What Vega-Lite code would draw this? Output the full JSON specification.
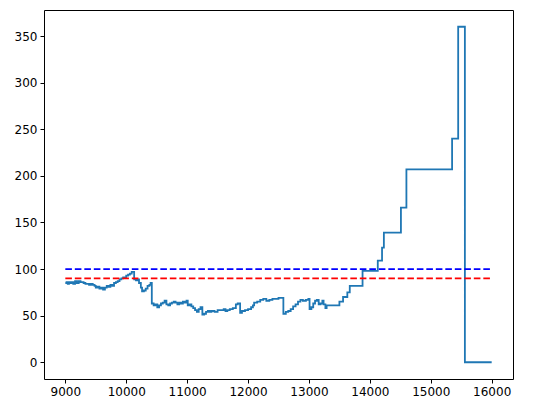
{
  "$schema": "https://vega.github.io/schema/vega-lite/v6.json",
  "width": 469,
  "height": 369,
  "autosize": "none",
  "padding": {"left": 44, "top": 10, "right": 39, "bottom": 34},
  "background": "white",
  "config": {
    "view": {"stroke": "black", "strokeWidth": 1},
    "axis": {
      "grid": false,
      "domain": false,
      "tickColor": "black",
      "tickSize": 4,
      "tickWidth": 1,
      "labelFont": "DejaVu Sans",
      "labelFontSize": 12,
      "labelColor": "black",
      "labelPadding": 3,
      "title": null
    }
  },
  "datasets": {
    "main": [
      {"x": 9000, "y": 85}, {"x": 9020, "y": 86}, {"x": 9040, "y": 84}, {"x": 9060, "y": 86}, {"x": 9080, "y": 85},
      {"x": 9100, "y": 86}, {"x": 9130, "y": 84}, {"x": 9160, "y": 87}, {"x": 9190, "y": 85}, {"x": 9220, "y": 87},
      {"x": 9250, "y": 86}, {"x": 9280, "y": 86}, {"x": 9300, "y": 85}, {"x": 9330, "y": 84}, {"x": 9360, "y": 84},
      {"x": 9390, "y": 83}, {"x": 9420, "y": 84}, {"x": 9450, "y": 83}, {"x": 9480, "y": 82}, {"x": 9500, "y": 80},
      {"x": 9530, "y": 81}, {"x": 9560, "y": 79}, {"x": 9590, "y": 80}, {"x": 9620, "y": 78}, {"x": 9650, "y": 80},
      {"x": 9680, "y": 82}, {"x": 9710, "y": 81}, {"x": 9740, "y": 83}, {"x": 9770, "y": 82}, {"x": 9800, "y": 85},
      {"x": 9830, "y": 86}, {"x": 9860, "y": 87}, {"x": 9890, "y": 89}, {"x": 9920, "y": 90}, {"x": 9950, "y": 91},
      {"x": 9980, "y": 91}, {"x": 10000, "y": 93}, {"x": 10030, "y": 94}, {"x": 10060, "y": 95}, {"x": 10090, "y": 97},
      {"x": 10110, "y": 97}, {"x": 10130, "y": 89}, {"x": 10160, "y": 88}, {"x": 10190, "y": 89}, {"x": 10210, "y": 85},
      {"x": 10240, "y": 80}, {"x": 10260, "y": 76}, {"x": 10290, "y": 77}, {"x": 10320, "y": 79}, {"x": 10350, "y": 82},
      {"x": 10380, "y": 83}, {"x": 10400, "y": 85}, {"x": 10420, "y": 63}, {"x": 10450, "y": 61}, {"x": 10480, "y": 62},
      {"x": 10510, "y": 59}, {"x": 10540, "y": 61}, {"x": 10570, "y": 63}, {"x": 10600, "y": 64}, {"x": 10630, "y": 66},
      {"x": 10660, "y": 62}, {"x": 10690, "y": 61}, {"x": 10720, "y": 63}, {"x": 10750, "y": 64}, {"x": 10780, "y": 65},
      {"x": 10810, "y": 64}, {"x": 10840, "y": 62}, {"x": 10870, "y": 64}, {"x": 10900, "y": 63}, {"x": 10930, "y": 65},
      {"x": 10960, "y": 64}, {"x": 10990, "y": 66}, {"x": 11010, "y": 61}, {"x": 11040, "y": 62}, {"x": 11070, "y": 60},
      {"x": 11100, "y": 58}, {"x": 11130, "y": 56}, {"x": 11160, "y": 54}, {"x": 11190, "y": 57}, {"x": 11220, "y": 59},
      {"x": 11250, "y": 51}, {"x": 11280, "y": 52}, {"x": 11310, "y": 54}, {"x": 11340, "y": 55}, {"x": 11370, "y": 54},
      {"x": 11400, "y": 55}, {"x": 11450, "y": 54}, {"x": 11500, "y": 56}, {"x": 11550, "y": 56}, {"x": 11600, "y": 57},
      {"x": 11630, "y": 55}, {"x": 11660, "y": 56}, {"x": 11700, "y": 57}, {"x": 11750, "y": 58}, {"x": 11800, "y": 62},
      {"x": 11830, "y": 63}, {"x": 11860, "y": 63}, {"x": 11870, "y": 53}, {"x": 11900, "y": 55}, {"x": 11950, "y": 56},
      {"x": 12000, "y": 57}, {"x": 12050, "y": 59}, {"x": 12080, "y": 61}, {"x": 12100, "y": 64}, {"x": 12150, "y": 65},
      {"x": 12200, "y": 67}, {"x": 12250, "y": 68}, {"x": 12300, "y": 66}, {"x": 12350, "y": 67}, {"x": 12400, "y": 68},
      {"x": 12450, "y": 68}, {"x": 12500, "y": 69}, {"x": 12560, "y": 69}, {"x": 12580, "y": 52}, {"x": 12620, "y": 54},
      {"x": 12660, "y": 55}, {"x": 12700, "y": 57}, {"x": 12740, "y": 60}, {"x": 12780, "y": 62}, {"x": 12820, "y": 65},
      {"x": 12860, "y": 67}, {"x": 12900, "y": 66}, {"x": 12950, "y": 67}, {"x": 12990, "y": 68}, {"x": 13010, "y": 57},
      {"x": 13040, "y": 59}, {"x": 13070, "y": 63}, {"x": 13100, "y": 66}, {"x": 13130, "y": 67}, {"x": 13160, "y": 62},
      {"x": 13190, "y": 63}, {"x": 13220, "y": 66}, {"x": 13240, "y": 62}, {"x": 13270, "y": 58}, {"x": 13290, "y": 61},
      {"x": 13500, "y": 65}, {"x": 13560, "y": 70}, {"x": 13630, "y": 75}, {"x": 13670, "y": 82}, {"x": 13880, "y": 98},
      {"x": 14130, "y": 109}, {"x": 14200, "y": 123}, {"x": 14230, "y": 139}, {"x": 14510, "y": 166}, {"x": 14600, "y": 207},
      {"x": 15350, "y": 240}, {"x": 15450, "y": 360}, {"x": 15560, "y": 0}, {"x": 16000, "y": 0}
    ],
    "ref": [
      {"x": 9000, "y": 100, "level": "100"}, {"x": 16000, "y": 100, "level": "100"},
      {"x": 9000, "y": 90, "level": "90"}, {"x": 16000, "y": 90, "level": "90"}
    ]
  },
  "encoding": {
    "x": {
      "field": "x", "type": "quantitative",
      "scale": {"domain": [8650, 16350], "nice": false, "zero": false},
      "axis": {"values": [9000, 10000, 11000, 12000, 13000, 14000, 15000, 16000], "format": "d"}
    },
    "y": {
      "field": "y", "type": "quantitative",
      "scale": {"domain": [-18, 378], "nice": false, "zero": false},
      "axis": {"values": [0, 50, 100, 150, 200, 250, 300, 350], "format": "d"}
    }
  },
  "layer": [
    {
      "data": {"name": "main"},
      "mark": {"type": "line", "interpolate": "step-after", "color": "#1f77b4", "strokeWidth": 1.8, "clip": true}
    },
    {
      "data": {"name": "ref"},
      "mark": {"type": "line", "strokeWidth": 1.8, "strokeDash": [6.6, 2.9]},
      "encoding": {
        "color": {"field": "level", "type": "nominal", "scale": {"domain": ["100", "90"], "range": ["blue", "red"]}, "legend": null}
      }
    }
  ]
}
